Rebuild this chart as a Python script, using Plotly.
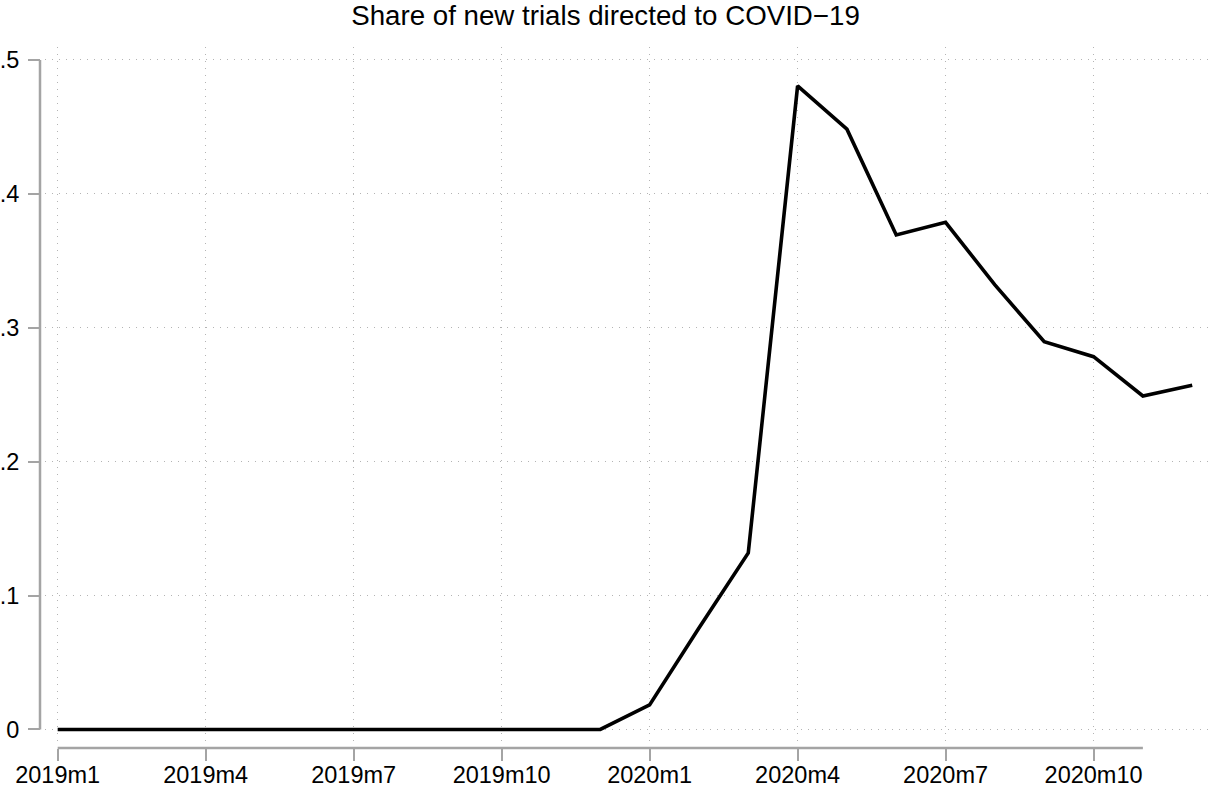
import plotly.graph_objects as go

months = ["2019m1","2019m2","2019m3","2019m4","2019m5","2019m6","2019m7","2019m8",
          "2019m9","2019m10","2019m11","2019m12","2020m1","2020m2","2020m3","2020m4",
          "2020m5","2020m6","2020m7","2020m8","2020m9","2020m10","2020m11","2020m12"]
share = [0,0,0,0,0,0,0,0,0,0,0,0,
         0.0183,0.0758,0.1318,0.4806,0.4483,0.3693,0.3788,0.332,0.2896,0.2784,0.2491,0.2571]
x_tick_labels = ["2019m1","2019m4","2019m7","2019m10","2020m1","2020m4","2020m7","2020m10"]
y_tick_vals = [0, 0.1, 0.2, 0.3, 0.4, 0.5]
y_tick_labels = ["0", ".1", ".2", ".3", ".4", ".5"]

idx = list(range(len(months)))
x_tick_vals = [months.index(m) for m in x_tick_labels]

W, H = 1211, 788
ml, mr, mt, mb = 40, 3, 47, 40
pw = W - ml - mr
ph = H - mt - mb

axis_col = "#a4a4a4"
grid_col = "#b4b4b4"
font = dict(family="Liberation Sans, Arial, sans-serif", size=23.5, color="black")

fig = go.Figure()
fig.add_trace(go.Scatter(x=idx, y=share, mode="lines",
                         line=dict(color="black", width=3.6), hoverinfo="skip",
                         showlegend=False))

fig.update_layout(
    width=W, height=H,
    margin=dict(l=ml, r=mr, t=mt, b=mb, autoexpand=False),
    paper_bgcolor="white", plot_bgcolor="white",
    font=font,
    title=dict(text="Share of new trials directed to COVID\u221219", x=0.5, xref="container",
               xanchor="center", y=1 - 15 / H, yref="container", yanchor="middle",
               font=dict(size=27.7)),
    xaxis=dict(domain=[5 / pw, 1], range=[-0.257, 23.32], anchor="free", position=0,
               tickvals=x_tick_vals, ticktext=x_tick_labels, automargin=False,
               ticks="outside", ticklen=12, tickwidth=2, tickcolor=axis_col,
               ticklabelstandoff=-6,
               showline=False, zeroline=False,
               showgrid=True, gridcolor=grid_col, gridwidth=1, griddash="1px,6px"),
    yaxis=dict(domain=[5 / ph, 1], range=[-0.0101, 0.5097], anchor="free", position=0,
               tickvals=y_tick_vals, ticktext=y_tick_labels, automargin=False,
               ticks="outside", ticklen=12, tickwidth=2, tickcolor=axis_col,
               ticklabelstandoff=4,
               showline=False, zeroline=False,
               showgrid=True, gridcolor=grid_col, gridwidth=1, griddash="1px,6px"),
)

# axis lines spanning the scale ranges (Stata style)
fig.add_shape(type="line", xref="paper", yref="y", x0=0, x1=0,
              y0=y_tick_vals[0], y1=y_tick_vals[-1],
              line=dict(color=axis_col, width=2.5))
fig.add_shape(type="line", xref="x", yref="paper", y0=0, y1=0,
              x0=0, x1=months.index("2020m11"),
              line=dict(color=axis_col, width=2.5))

fig.write_html("out.html", config={"displayModeBar": False},
               post_script="document.body.style.margin='0';document.body.style.overflow='hidden';")
